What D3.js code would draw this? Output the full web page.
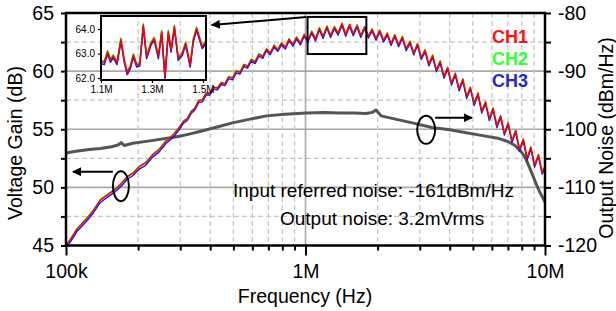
<!DOCTYPE html>
<html><head><meta charset="utf-8">
<script src="https://cdn.jsdelivr.net/npm/d3@7"></script>
<style>
body{margin:0;background:#fff;}
svg{display:block;font-family:"Liberation Sans",Arial,sans-serif;}
</style>
</head><body>
<svg id="c" width="616" height="311"></svg>
<script>
// ---------------- DATA ----------------
const gainFreqKHz = [100,105,111,117,122,130,139,150,160,170,180,190,203,215,230,246,262,280,298,
310,321,333,345,358,371,385,399,414,429,
445,461,478,496,514,533,553,573,594,616,
639,663,687,712,739,766,794,824,854,886,
918,952,988,1024,1062,1101,1142,1184,1228,1273,
1320,1369,1420,1472,1527,1583,1642,1702,1765,1831,
1898,1968,2041,2117,2195,2276,2360,2448,2538,2632,
2730,2831,2935,3044,3156,3273,3394,3520,3650,3785,
3925,4070,4221,4377,4539,4707,4881,5061,5249,5443,
5644,5853,6070,6294,6527,6769,7019,7279,7548,7828,
8117,8418,8729,9052,9387,9735,10000];

const ch1Gain = [45.0,45.6,46.4,46.9,47.3,48.0,48.9,49.4,49.8,50.3,50.9,51.2,51.8,52.1,52.8,53.3,54.0,54.5,55.2,
55.7,55.9,56.5,56.8,57.45,57.5,58.1,58.1,58.6,58.55,
59.0,58.9,59.5,59.4,60.0,59.9,60.55,60.4,61.0,60.8,
61.45,61.25,61.9,61.55,62.2,61.85,62.4,62.05,62.75,62.3,
62.9,62.4,63.15,62.65,63.4,62.75,63.7,62.95,63.85,63.05,
63.8,63.25,64.1,63.15,64.0,63.2,63.95,63.05,63.8,63.0,
63.6,62.8,63.5,62.65,63.25,62.35,63.1,62.25,62.95,61.9,
62.55,61.55,62.35,61.15,61.8,60.6,61.35,60.1,60.85,59.55,
60.3,58.95,59.8,58.45,59.3,57.8,58.6,57.2,58.1,56.55,
57.35,55.9,56.8,55.3,56.15,54.65,55.55,54.0,54.9,53.25,
54.15,52.5,53.45,51.9,52.8,51.3,51.8];

const ch2Gain = [45.05,45.65,46.45,46.95,47.35,48.05,48.95,49.45,49.85,50.35,50.95,51.25,51.85,52.15,52.85,53.35,54.05,54.55,55.25,
55.75,55.95,56.55,56.85,57.5,57.55,58.15,58.15,58.65,58.6,
59.05,58.95,59.55,59.45,60.05,59.95,60.6,60.45,61.05,60.85,
61.5,61.3,61.95,61.6,62.25,61.9,62.45,62.1,62.8,62.35,
62.95,62.45,63.2,62.7,63.45,62.8,63.75,63.0,63.9,63.1,
63.85,63.3,64.15,63.2,64.05,63.25,64.0,63.1,63.85,63.05,
63.65,62.85,63.55,62.7,63.3,62.4,63.15,62.3,63.0,61.95,
62.6,61.6,62.4,61.2,61.85,60.65,61.4,60.15,60.9,59.6,
60.35,59.0,59.85,58.5,59.35,57.85,58.65,57.25,58.15,56.6,
57.4,55.95,56.85,55.35,56.2,54.7,55.6,54.05,54.95,53.3,
54.2,52.55,53.5,51.95,52.85,51.35,51.85];

const ch3Gain = [44.8,45.4,46.2,46.7,47.1,47.8,48.7,49.2,49.6,50.1,50.7,51.0,51.6,51.9,52.6,53.1,53.8,54.3,55.0,
55.55,55.75,56.35,56.65,57.3,57.35,57.95,57.95,58.45,58.4,
58.85,58.75,59.35,59.25,59.85,59.75,60.4,60.25,60.85,60.65,
61.3,61.1,61.75,61.4,62.05,61.7,62.25,61.9,62.6,62.15,
62.75,62.25,63.0,62.5,63.25,62.6,63.55,62.8,63.7,62.9,
63.65,63.1,63.95,63.0,63.85,63.05,63.8,62.9,63.65,62.85,
63.45,62.65,63.35,62.5,63.1,62.2,62.95,62.1,62.8,61.75,
62.4,61.4,62.2,61.0,61.65,60.45,61.2,59.95,60.7,59.4,
60.15,58.8,59.65,58.3,59.15,57.65,58.45,57.05,57.95,56.4,
57.2,55.75,56.65,55.15,56.0,54.5,55.4,53.85,54.75,53.1,
54.0,52.35,53.3,51.75,52.65,51.15,51.65];

const noiseFreqKHz = [100,110,125,139,155,165,170,175,190,224,260,298,330,362,420,496,580,688,820,
1010,1200,1380,1600,1790,1900,1970,2020,2070,2400,2790,3380,4000,4690,5500,6430,7000,7500,8000,8300,8700,9100,9500,10000];
const outputNoise = [-104.1,-103.8,-103.5,-103.3,-103.0,-102.7,-102.3,-102.8,-102.4,-102.0,-101.6,-101.2,-100.8,-100.4,-99.7,-98.9,-98.3,-97.7,-97.4,
-97.2,-97.1,-97.2,-97.2,-97.3,-97.1,-96.7,-97.2,-97.7,-98.3,-98.9,-99.7,-100.1,-100.6,-101.1,-101.6,-102.1,-102.8,-104.0,-105.0,-107.0,-109.0,-110.8,-112.5];

const insetFreqMHz = [1.100,1.113,1.126,1.137,1.148,1.163,1.178,1.191,1.203,1.215,1.227,1.240,1.252,1.266,1.279,1.296,1.309,1.325,1.338,1.351,1.364,1.375,1.388,1.403,1.419,1.432,1.450,1.462,1.475,1.497,1.512];
const insetCh1 = [62.67,62.64,63.07,62.73,62.9,62.63,63.58,62.73,62.22,62.46,62.94,62.53,62.57,64.16,62.87,63.42,63.62,62.87,63.89,62.05,63.89,63.14,64.1,62.8,63.0,63.42,62.53,63.55,64.03,63.28,63.48];
const insetCh2 = [62.72,62.69,63.12,62.78,62.95,62.68,63.63,62.78,62.27,62.51,62.99,62.58,62.62,64.21,62.92,63.47,63.67,62.92,63.94,62.1,63.94,63.19,64.15,62.85,63.05,63.47,62.58,63.6,64.08,63.33,63.53];
const insetCh3 = [62.58,62.55,62.99,62.64,62.82,62.55,63.5,62.64,62.14,62.38,62.86,62.45,62.49,64.08,62.79,63.34,63.54,62.79,63.81,61.97,63.81,63.06,64.02,62.72,62.92,63.34,62.45,63.47,63.95,63.2,63.4];

const leftMajorTicks = [45,50,55,60,65];
const leftMinorTicks = [47.5,52.5,57.5,62.5];
const rightMajorTicks = [-120,-110,-100,-90,-80];
const rightMinorTicks = [-115,-105,-95,-85];
const xMajorTicks = [1e5,1e6,1e7];
const xMajorLabels = ["100k","1M","10M"];
const xMinorTicks = [2e5,3e5,4e5,5e5,6e5,7e5,8e5,9e5,2e6,3e6,4e6,5e6,6e6,7e6,8e6,9e6];
const insetYTicks = [62,63,64];
const insetYLabels = ["62.0","63.0","64.0"];
const insetXTicks = [1.1,1.3,1.5];
const insetXLabels = ["1.1M","1.3M","1.5M"];
const legendNames = ["CH1","CH2","CH3"];
const noteLines = ["Input referred noise: -161dBm/Hz","Output noise: 3.2mVrms"];

// annotations in data space
const gainEllipse = {f:169.5e3, v:50.1};
const noiseEllipse = {f:3.19e6, v:-100.1};
const gainArrow = {f0:157e3, f1:106.9e3, v:51.35};
const noiseArrow = {f0:3.48e6, f1:4.96e6, v:-98.0};
const zoomArrow = {f0:1.01e6, v0:64.66, f1:406e3, v1:63.97};
const zoomBox = {f0:1.02e6, f1:1.795e6, v0:61.47, v1:64.66};

// ---------------- CHART ----------------
const svg = d3.select("#c");
const L=66, R=545, T=13, B=245.5;
const x = d3.scaleLog().domain([1e5,1e7]).range([L,R]);
const yL = d3.scaleLinear().domain([45,65]).range([B,T]);
const yR = d3.scaleLinear().domain([-120,-80]).range([B,T]);
const colors = ["#ff0000","#22ee22","#1010ee"];
const legendColors = ["#ff1010","#33ff33","#2a2ac0"];
const FS = 19.5;

svg.append("defs").append("clipPath").attr("id","pc")
  .append("rect").attr("x",L).attr("y",T).attr("width",R-L).attr("height",B-T);

// grid
const g = svg.append("g");
g.selectAll(".hm").data(leftMajorTicks.slice(1,-1)).join("line")
  .attr("x1",L).attr("x2",R).attr("y1",d=>yL(d)).attr("y2",d=>yL(d))
  .attr("stroke","#a8a8a8").attr("stroke-width",1.6);
g.selectAll(".hn").data(leftMinorTicks).join("line")
  .attr("x1",L).attr("x2",R).attr("y1",d=>yL(d)).attr("y2",d=>yL(d))
  .attr("stroke","#c4c4c4").attr("stroke-width",1.2).attr("stroke-dasharray","5,3");
g.selectAll(".vn").data(xMinorTicks).join("line")
  .attr("x1",d=>x(d)).attr("x2",d=>x(d)).attr("y1",T).attr("y2",B)
  .attr("stroke","#c4c4c4").attr("stroke-width",1.2).attr("stroke-dasharray","5,3");
g.append("line").attr("x1",x(1e6)).attr("x2",x(1e6)).attr("y1",T).attr("y2",B)
  .attr("stroke","#a8a8a8").attr("stroke-width",1.6);

// lines
const plot = svg.append("g").attr("clip-path","url(#pc)");
const nLine = d3.line().x((d,i)=>x(noiseFreqKHz[i]*1e3)).y(d=>yR(d));
plot.append("path").datum(outputNoise).attr("d",nLine)
  .attr("fill","none").attr("stroke","#555").attr("stroke-width",3).attr("stroke-linejoin","round");

const gLine = d3.line().x((d,i)=>x(gainFreqKHz[i]*1e3)).y(d=>yL(d));
[[ch2Gain,colors[1]],[ch3Gain,colors[2]],[ch1Gain,colors[0]]].forEach(([arr,c])=>{
  plot.append("path").datum(arr).attr("d",gLine)
    .attr("fill","none").attr("stroke",c).attr("stroke-width",1.4).attr("stroke-linejoin","round");
});

// axes
function styleAxis(sel){
  sel.select(".domain").remove();
  sel.selectAll(".tick line").attr("stroke","#000").attr("stroke-width",2);
  sel.selectAll(".tick text").attr("font-size",FS).attr("fill","#000").attr("font-family","Liberation Sans, Arial, sans-serif");
}
const leftAll = leftMajorTicks.concat(leftMinorTicks);
svg.append("g").attr("transform",`translate(${L},0)`)
  .call(d3.axisLeft(yL).tickValues(leftAll).tickSize(5).tickPadding(7)
    .tickFormat(d=>leftMajorTicks.includes(d)?String(d):""))
  .call(styleAxis);
const rightAll = rightMajorTicks.concat(rightMinorTicks);
svg.append("g").attr("transform",`translate(${R},0)`)
  .call(d3.axisRight(yR).tickValues(rightAll).tickSize(6).tickPadding(7)
    .tickFormat(d=>rightMajorTicks.includes(d)?String(d):""))
  .call(styleAxis);
const xAx = svg.append("g").attr("transform",`translate(0,${B})`)
  .call(d3.axisBottom(x).tickValues(xMajorTicks.concat(xMinorTicks)).tickSize(5).tickPadding(14)
    .tickFormat(d=>{const i=xMajorTicks.indexOf(d); return i>=0?xMajorLabels[i]:"";}))
  .call(styleAxis);
xAx.selectAll(".tick").filter(d=>xMajorTicks.includes(d)).select("line").attr("y2",10);

// frame
svg.append("rect").attr("x",L).attr("y",T).attr("width",R-L).attr("height",B-T)
  .attr("fill","none").attr("stroke","#000").attr("stroke-width",2.5);

// titles
svg.append("text").attr("transform","translate(15,143) rotate(-90)").attr("dy","0.35em")
  .attr("text-anchor","middle").attr("font-size",FS).text("Voltage Gain (dB)");
svg.append("text").attr("transform","translate(606,138) rotate(-90)").attr("dy","0.35em")
  .attr("text-anchor","middle").attr("font-size",FS).text("Output Noise (dBm/Hz)");
svg.append("text").attr("x",305).attr("y",303).attr("text-anchor","middle")
  .attr("font-size",FS).text("Frequency (Hz)");

// legend
legendNames.forEach((n,i)=>{
  svg.append("text").attr("x",528).attr("y",43+i*22).attr("text-anchor","end")
    .attr("font-size",18).attr("font-weight","bold").attr("fill",legendColors[i]).text(n);
});

// notes
svg.append("text").attr("x",233).attr("y",197).attr("font-size",19).text(noteLines[0]);
svg.append("text").attr("x",280).attr("y",225).attr("font-size",19).text(noteLines[1]);

// arrow marker
svg.select("defs").append("marker").attr("id","ah").attr("viewBox","0 0 10 10")
  .attr("refX",9).attr("refY",5).attr("markerWidth",5).attr("markerHeight",4.5)
  .attr("orient","auto").attr("markerUnits","strokeWidth")
  .append("path").attr("d","M0,0 L10,5 L0,10 z").attr("fill","#000");

function arrow(x0,y0,x1,y1){
  svg.append("line").attr("x1",x0).attr("y1",y0).attr("x2",x1).attr("y2",y1)
    .attr("stroke","#000").attr("stroke-width",2).attr("marker-end","url(#ah)");
}
arrow(x(gainArrow.f0),yL(gainArrow.v),x(gainArrow.f1),yL(gainArrow.v));
arrow(x(noiseArrow.f0),yR(noiseArrow.v),x(noiseArrow.f1),yR(noiseArrow.v));
arrow(x(zoomArrow.f0),yL(zoomArrow.v0),x(zoomArrow.f1),yL(zoomArrow.v1));

svg.append("ellipse").attr("cx",x(gainEllipse.f)).attr("cy",yL(gainEllipse.v)).attr("rx",8).attr("ry",15)
  .attr("fill","none").attr("stroke","#000").attr("stroke-width",2);
svg.append("ellipse").attr("cx",x(noiseEllipse.f)).attr("cy",yR(noiseEllipse.v)).attr("rx",9).attr("ry",14)
  .attr("fill","none").attr("stroke","#000").attr("stroke-width",2);
svg.append("rect").attr("x",x(zoomBox.f0)).attr("y",yL(zoomBox.v1))
  .attr("width",x(zoomBox.f1)-x(zoomBox.f0)).attr("height",yL(zoomBox.v0)-yL(zoomBox.v1))
  .attr("fill","none").attr("stroke","#000").attr("stroke-width",2);

// inset
const IL=101, IR=206, IT=16, IB=80;
const ix = d3.scaleLinear().domain([1.1,1.512]).range([IL,IR]);
const iy = d3.scaleLinear().domain([61.92,64.53]).range([IB,IT]);
const inset = svg.append("g");
const iLine = d3.line().x((d,i)=>ix(insetFreqMHz[i])).y(d=>iy(d));
[[insetCh2,colors[1]],[insetCh3,colors[2]],[insetCh1,colors[0]]].forEach(([arr,c])=>{
  inset.append("path").datum(arr).attr("d",iLine).attr("fill","none")
    .attr("stroke",c).attr("stroke-width",1.5).attr("stroke-linejoin","round");
});
inset.append("rect").attr("x",IL).attr("y",IT).attr("width",IR-IL).attr("height",IB-IT)
  .attr("fill","none").attr("stroke","#000").attr("stroke-width",2);
const iyAx = inset.append("g").attr("transform",`translate(${IL},0)`)
  .call(d3.axisLeft(iy).tickValues(insetYTicks).tickSize(3).tickPadding(3)
    .tickFormat((d,i)=>insetYLabels[i]));
iyAx.select(".domain").remove();
iyAx.selectAll(".tick text").attr("font-size",10).attr("fill","#000").attr("font-family","Liberation Sans, Arial, sans-serif");
iyAx.selectAll(".tick line").attr("stroke","#000").attr("stroke-width",1.2);
const ixAx = inset.append("g").attr("transform",`translate(0,${IB})`)
  .call(d3.axisBottom(ix).tickValues(insetXTicks).tickSize(3).tickPadding(3)
    .tickFormat((d,i)=>insetXLabels[i]));
ixAx.select(".domain").remove();
ixAx.selectAll(".tick text").attr("font-size",10).attr("fill","#000").attr("font-family","Liberation Sans, Arial, sans-serif");
ixAx.selectAll(".tick line").attr("stroke","#000").attr("stroke-width",1.2);
</script>
</body></html>
